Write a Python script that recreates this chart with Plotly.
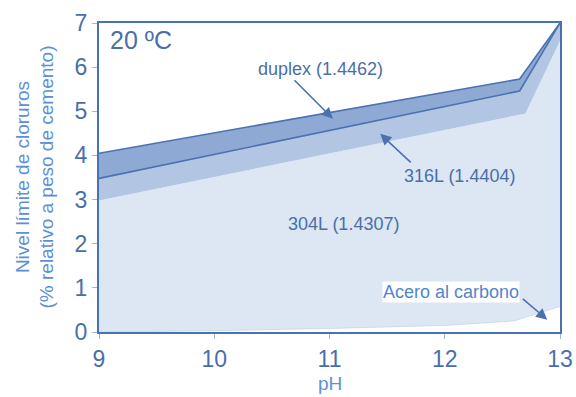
import plotly.graph_objects as go

# Chloride threshold vs pH at 20 ºC for several steels
ph_duplex = [9, 12.65, 13]
cl_duplex = [4.05, 5.73, 7.0]

ph_316 = [9, 12.65, 13]
cl_316 = [3.48, 5.46, 7.0]

ph_304 = [9, 12.7, 13]
cl_304 = [2.98, 4.95, 6.6]

ph_carbon = [9, 10, 11, 12, 12.6, 13]
cl_carbon = [0.0, 0.03, 0.08, 0.15, 0.25, 0.58]

x_ticks = [9, 10, 11, 12, 13]
y_ticks = [0, 1, 2, 3, 4, 5, 6, 7]

line_col = "#4a72b0"
text_col = "#4a6fa8"
title_col = "#5b8fd6"
font_family = "Liberation Sans, Arial, sans-serif"

fig = go.Figure()

# 304L region (lightest)
fig.add_trace(go.Scatter(
    x=ph_304, y=cl_304, mode="lines", line=dict(width=0, color="#b9cbe6"),
    fill="tozeroy", fillcolor="#dde6f3", hoverinfo="skip"))
# 316L band
fig.add_trace(go.Scatter(
    x=ph_316, y=cl_316, mode="lines", line=dict(width=1.6, color=line_col),
    fill="tonexty", fillcolor="#b2c5e3", hoverinfo="skip"))
# duplex band
fig.add_trace(go.Scatter(
    x=ph_duplex, y=cl_duplex, mode="lines", line=dict(width=1.6, color=line_col),
    fill="tonexty", fillcolor="#8ea9d3", hoverinfo="skip"))
# carbon steel (white region at the bottom)
fig.add_trace(go.Scatter(
    x=ph_carbon, y=cl_carbon, mode="lines", line=dict(width=0.8, color="#c9d6ea"),
    fill="tozeroy", fillcolor="#ffffff", hoverinfo="skip"))

annotations = [
    dict(x=9.08, y=6.98, xref="x", yref="y", text="20 ºC", showarrow=False,
         xanchor="left", yanchor="top", font=dict(size=25, color=text_col)),
    dict(x=11.03, y=4.83, xref="x", yref="y", text="", showarrow=True,
         ax=-40, ay=-40, arrowhead=2, arrowsize=1.4, arrowwidth=1.6, arrowcolor=line_col),
    dict(x=10.92, y=5.96, xref="x", yref="y", text="duplex (1.4462)", showarrow=False,
         font=dict(size=18, color=text_col)),
    dict(x=11.44, y=4.49, xref="x", yref="y", text="", showarrow=True,
         ax=32, ay=30, arrowhead=2, arrowsize=1.4, arrowwidth=1.6, arrowcolor=line_col),
    dict(x=12.13, y=3.54, xref="x", yref="y", text="316L (1.4404)", showarrow=False,
         font=dict(size=18, color=text_col)),
    dict(x=11.12, y=2.44, xref="x", yref="y", text="304L (1.4307)", showarrow=False,
         font=dict(size=18, color=text_col)),
    dict(x=12.89, y=0.28, xref="x", yref="y", text="", showarrow=True,
         ax=-26, ay=-22, arrowhead=2, arrowsize=1.4, arrowwidth=1.6, arrowcolor=line_col),
    dict(x=12.05, y=0.90, xref="x", yref="y", text="Acero al carbono", showarrow=False,
         bgcolor="#ffffff", borderpad=0, font=dict(size=18, color="#4f86cf")),
    # y-axis title, two lines
    dict(x=0, y=0.5, xref="paper", yref="paper", xshift=-65, xanchor="center",
         yanchor="middle", textangle=-90,
         text="Nivel límite de cloruros<br>(% relativo a peso de cemento)",
         showarrow=False, font=dict(size=19, color=title_col)),
    # x-axis title
    dict(x=11, y=0, xref="x", yref="paper", yshift=-51, xanchor="center",
         yanchor="middle", text="pH", showarrow=False,
         font=dict(size=19, color=title_col)),
]

fig.update_layout(
    width=576, height=397,
    margin=dict(l=99, r=16, t=23, b=65),
    paper_bgcolor="#ffffff", plot_bgcolor="#ffffff",
    showlegend=False,
    font=dict(family=font_family, color=text_col),
    annotations=annotations,
)
fig.update_xaxes(
    range=[9, 13], tickvals=x_ticks, ticks="outside", ticklen=5, tickcolor="#9fb6da",
    tickfont=dict(size=23, color=text_col), automargin=False,
    showline=True, linecolor=line_col, linewidth=2, mirror=True, showgrid=False, zeroline=False,
)
fig.update_yaxes(
    range=[0, 7], tickvals=y_ticks, ticks="outside", ticklen=5, tickcolor="#9fb6da",
    tickfont=dict(size=23, color=text_col), automargin=False,
    showline=True, linecolor=line_col, linewidth=2, mirror=True, showgrid=False, zeroline=False,
)

fig.write_html("out.html")
